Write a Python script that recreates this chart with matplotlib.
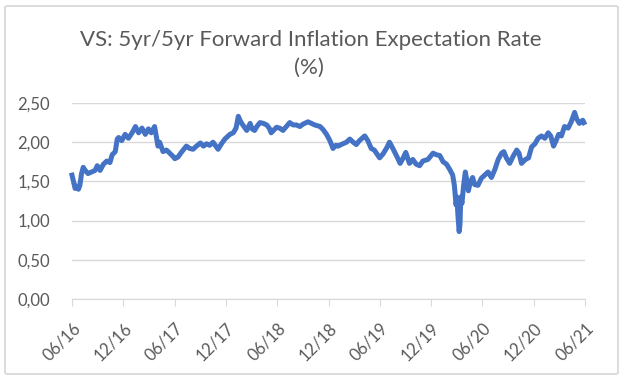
import numpy as np
import matplotlib.pyplot as plt
import matplotlib.dates as mdates
import pandas as pd
from matplotlib.patches import FancyBboxPatch

# 5yr/5yr forward inflation expectation (approx. every 1-2 weeks)
dates = [
    "2016-06-01", "2016-06-06", "2016-06-12", "2016-06-17", "2016-06-24", "2016-06-29",
    "2016-07-05", "2016-07-11", "2016-07-16", "2016-07-28", "2016-08-10", "2016-08-22",
    "2016-08-30", "2016-09-09", "2016-09-21", "2016-10-03", "2016-10-14", "2016-10-22",
    "2016-11-02", "2016-11-09", "2016-11-14", "2016-11-25", "2016-12-07", "2016-12-19",
    "2017-01-01", "2017-01-13", "2017-01-24", "2017-02-05", "2017-02-17", "2017-02-28",
    "2017-03-10", "2017-03-22", "2017-04-03", "2017-04-09", "2017-04-21", "2017-05-03",
    "2017-05-15", "2017-05-26", "2017-06-02", "2017-06-13", "2017-06-25", "2017-07-13",
    "2017-07-25", "2017-08-06", "2017-08-18", "2017-09-01", "2017-09-12", "2017-09-23",
    "2017-10-04", "2017-10-16", "2017-11-03", "2017-11-15", "2017-11-27", "2017-12-15",
    "2017-12-27", "2018-01-06", "2018-01-14", "2018-01-20", "2018-01-26", "2018-02-07",
    "2018-02-13", "2018-02-25", "2018-03-04", "2018-03-13", "2018-03-21", "2018-04-01",
    "2018-04-13", "2018-04-25", "2018-05-04", "2018-05-11", "2018-05-30", "2018-06-10",
    "2018-06-22", "2018-07-04", "2018-07-16", "2018-07-28", "2018-08-09", "2018-08-21",
    "2018-09-01", "2018-09-19", "2018-10-01", "2018-10-13", "2018-11-01", "2018-11-12",
    "2018-11-24", "2018-12-06", "2018-12-17", "2018-12-27", "2019-01-04", "2019-01-21",
    "2019-02-03", "2019-02-15", "2019-02-27", "2019-03-10", "2019-03-21", "2019-04-09",
    "2019-04-20", "2019-05-02", "2019-05-13", "2019-06-01", "2019-06-13", "2019-06-25",
    "2019-07-06", "2019-07-18", "2019-08-01", "2019-08-13", "2019-08-24", "2019-09-02",
    "2019-09-15", "2019-09-27", "2019-10-09", "2019-10-21", "2019-11-02", "2019-11-20",
    "2019-12-08", "2019-12-20", "2020-01-01", "2020-01-13", "2020-01-25", "2020-02-06",
    "2020-02-16", "2020-02-22", "2020-02-28", "2020-03-02", "2020-03-06", "2020-03-10",
    "2020-03-13", "2020-03-16", "2020-03-20", "2020-03-26", "2020-04-01", "2020-04-07",
    "2020-04-12", "2020-04-18", "2020-04-27", "2020-05-04", "2020-05-16", "2020-05-28",
    "2020-06-09", "2020-06-21", "2020-07-03", "2020-07-15", "2020-07-27", "2020-08-08",
    "2020-08-16", "2020-08-25", "2020-09-06", "2020-09-18", "2020-10-01", "2020-10-09",
    "2020-10-18", "2020-11-01", "2020-11-12", "2020-11-23", "2020-12-05", "2020-12-16",
    "2020-12-28", "2021-01-09", "2021-01-21", "2021-01-30", "2021-02-09", "2021-02-18",
    "2021-02-27", "2021-03-09", "2021-03-20", "2021-04-02", "2021-04-13", "2021-04-25",
    "2021-05-02", "2021-05-12", "2021-05-24", "2021-05-28",
]
rate = [
    1.58, 1.50, 1.41, 1.44, 1.40, 1.45,
    1.60, 1.68, 1.65, 1.60, 1.62, 1.64,
    1.70, 1.64, 1.72, 1.76, 1.74, 1.84,
    1.88, 2.04, 2.06, 2.02, 2.10, 2.05,
    2.12, 2.20, 2.12, 2.18, 2.10, 2.17,
    2.12, 2.20, 1.95, 2.00, 1.88, 1.90,
    1.86, 1.82, 1.79, 1.81, 1.87, 1.95,
    1.92, 1.91, 1.95, 1.99, 1.95, 1.98,
    1.96, 2.00, 1.91, 1.98, 2.04, 2.10,
    2.12, 2.18, 2.33, 2.28, 2.24, 2.18,
    2.15, 2.24, 2.17, 2.15, 2.20, 2.25,
    2.24, 2.22, 2.18, 2.12, 2.19, 2.18,
    2.15, 2.20, 2.25, 2.22, 2.22, 2.20,
    2.23, 2.26, 2.24, 2.22, 2.20, 2.16,
    2.10, 2.02, 1.92, 1.96, 1.95, 1.98,
    2.00, 2.04, 2.00, 1.97, 2.02, 2.08,
    2.02, 1.92, 1.90, 1.80, 1.85, 1.92,
    2.00, 1.92, 1.82, 1.73, 1.80, 1.87,
    1.73, 1.78, 1.72, 1.70, 1.76, 1.78,
    1.86, 1.84, 1.83, 1.75, 1.72, 1.65,
    1.58, 1.45, 1.20, 1.30, 1.05, 0.86,
    0.95, 1.30, 1.22, 1.45, 1.62, 1.50,
    1.38, 1.48, 1.55, 1.46, 1.45, 1.54,
    1.58, 1.62, 1.55, 1.65, 1.78, 1.86,
    1.88, 1.80, 1.73, 1.82, 1.90, 1.86,
    1.73, 1.78, 1.80, 1.94, 1.98, 2.05,
    2.08, 2.05, 2.12, 2.08, 1.95, 2.02,
    2.10, 2.08, 2.20, 2.18, 2.26, 2.38,
    2.30, 2.24, 2.28, 2.25,
]
tick_dates = ["2016-06-01", "2016-12-01", "2017-06-01", "2017-12-01", "2018-06-01",
              "2018-12-01", "2019-06-01", "2019-12-01", "2020-06-01", "2020-12-01",
              "2021-06-01"]
y_ticks = [0.0, 0.5, 1.0, 1.5, 2.0, 2.5]

plt.rcParams['font.family'] = ['Lato', 'DejaVu Sans']
text_col = '#595959'
grid_col = '#D9D9D9'

df = pd.DataFrame({'date': pd.to_datetime(dates), 'rate': rate})
ticks = pd.to_datetime(tick_dates)

fig = plt.figure(figsize=(6.25, 3.82), dpi=100)
# chart border
fig.patches.append(FancyBboxPatch((5 / 625, 1 - 374 / 382), 613 / 625, 368 / 382,
                                  boxstyle="round,pad=0,rounding_size=0.004",
                                  transform=fig.transFigure, fill=False,
                                  edgecolor=grid_col, linewidth=1.3))

ax = fig.add_axes([72 / 625, 1 - 299 / 382, 513 / 625, 196 / 382])
ax.plot(df['date'], df['rate'], color='#4472C4', linewidth=3.6, clip_on=False,
        solid_joinstyle='round')

ax.set_xlim(ticks[0], ticks[-1])
ax.set_ylim(0, 2.5)
ax.set_yticks(y_ticks)
ax.set_yticklabels([f"{v:.2f}".replace('.', ',') for v in y_ticks])
ax.set_xticks(ticks)
ax.set_xticklabels([d.strftime('%m/%y') for d in ticks], rotation=45, ha='right',
                   rotation_mode='anchor')
ax.grid(axis='y', color=grid_col, linewidth=1)
ax.set_axisbelow(True)
for s in ['top', 'right', 'left']:
    ax.spines[s].set_visible(False)
ax.spines['bottom'].set_color(grid_col)
ax.tick_params(axis='y', length=0, pad=16, labelsize=12, labelcolor=text_col)
ax.tick_params(axis='x', length=5, color=grid_col, pad=10, labelsize=12,
               labelcolor=text_col)

fig.text(0.497, 1 - 40 / 382, "VS: 5yr/5yr Forward Inflation Expectation Rate",
         ha='center', va='center', fontsize=16, color=text_col)
fig.text(0.495, 1 - 68 / 382, "(%)", ha='center', va='center', fontsize=16,
         color=text_col)

fig.savefig('out.png', dpi=100)
